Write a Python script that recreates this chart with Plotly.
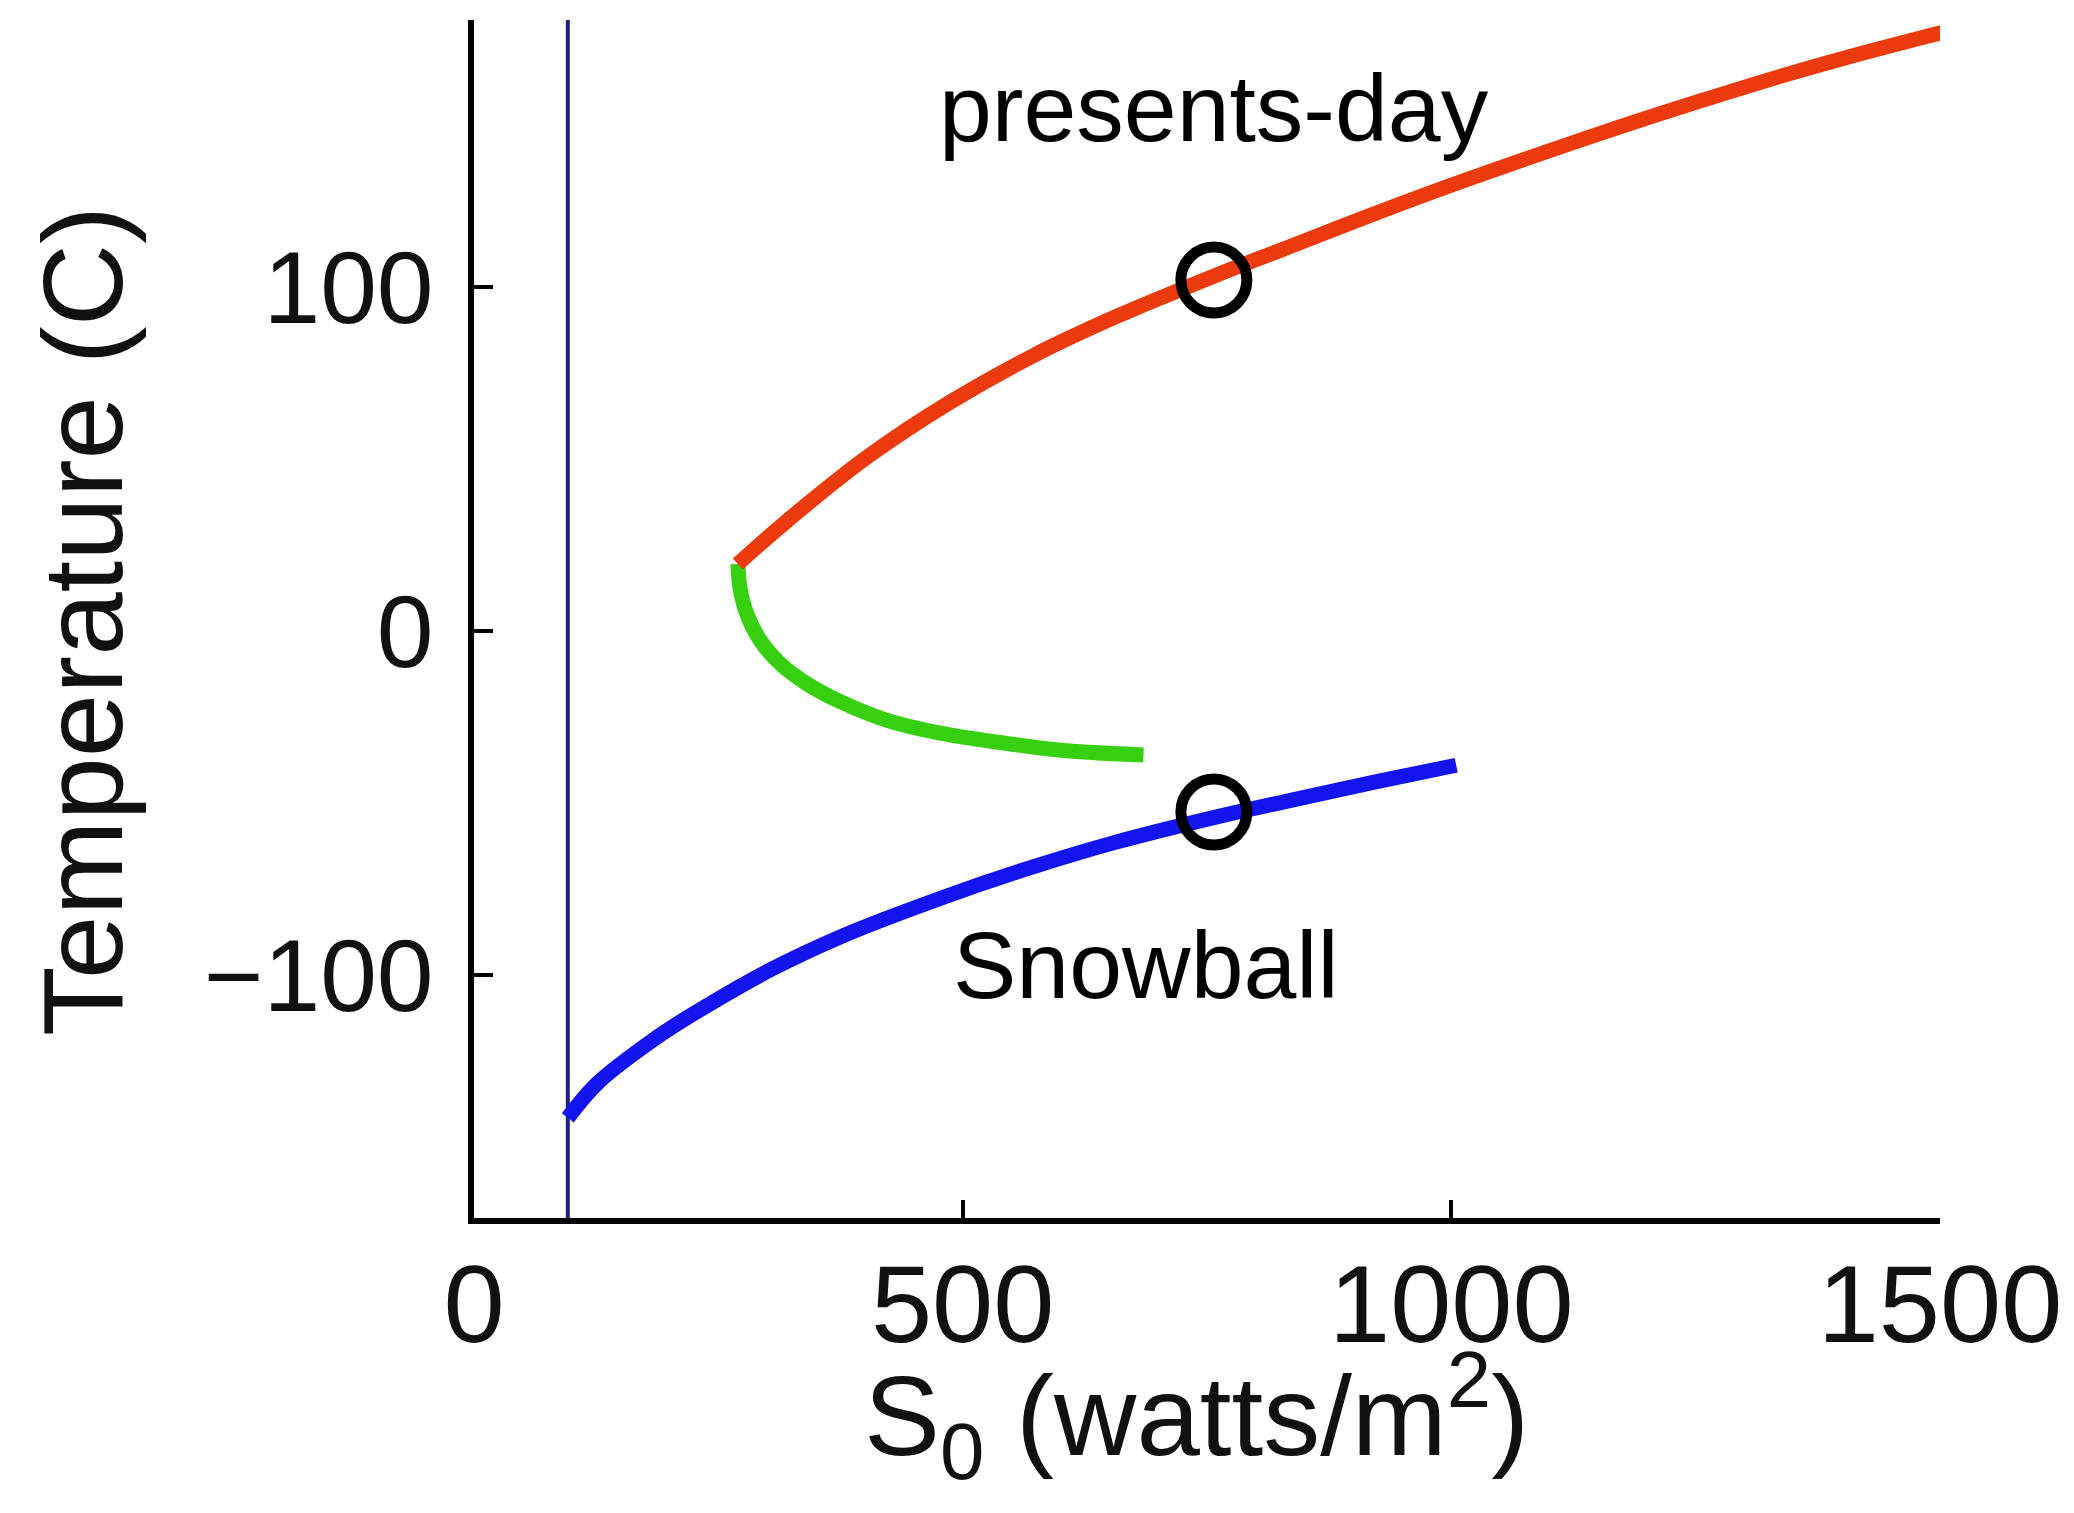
import plotly.graph_objects as go

# Equilibrium branches of the energy-balance model: solar constant vs. temperature
warm_s0 = [270, 316, 402, 487, 572, 658, 760, 828, 914, 999, 1084, 1170, 1254, 1340, 1425, 1502]
warm_t = [19.5, 31.0, 50.5, 66.5, 80.0, 91.5, 103.5, 111.0, 120.5, 129.5, 138.0, 146.3, 154.0, 161.5, 168.3, 174.0]

unstable_s0 = [270, 272, 279, 292.6, 313, 340, 374.5, 422, 477, 538, 606, 685]
unstable_t = [19.5, 12.9, 5.1, -2.6, -9.4, -15.2, -20.5, -25.9, -29.7, -32.4, -34.8, -36.0]

snowball_s0 = [96, 126, 185, 226, 303, 378, 479, 567, 655, 760, 831, 920, 1005]
snowball_t = [-141.5, -131.5, -118.5, -111.0, -98.5, -88.5, -77.5, -69.0, -61.5, -54.0, -49.5, -44.0, -39.0]

# Lowest solar constant with a solution
s0_limit = 96

# Highlighted states
marked_s0 = [757, 757]
marked_t = [102, -52.6]

labels = ["presents-day", "Snowball"]
label_s0 = [757, 688]
label_t = [152, -97]

x_ticks = [0, 500, 1000, 1500]
y_ticks = [-100, 0, 100]
x_range = [0, 1500]
y_range = [-170.6, 177.6]

font_family = "Liberation Sans, Arial, Helvetica, sans-serif"

fig = go.Figure()

fig.add_trace(go.Scatter(
    x=[s0_limit, s0_limit], y=y_range, mode="lines",
    line=dict(color="#1f1f86", width=4), hoverinfo="skip",
))
fig.add_trace(go.Scatter(
    x=snowball_s0, y=snowball_t, mode="lines", line_shape="spline",
    line=dict(color="#1414ee", width=15),
))
fig.add_trace(go.Scatter(
    x=unstable_s0, y=unstable_t, mode="lines", line_shape="spline",
    line=dict(color="#36d010", width=15),
))
fig.add_trace(go.Scatter(
    x=warm_s0, y=warm_t, mode="lines", line_shape="spline",
    line=dict(color="#ea3a0e", width=15),
))
fig.add_trace(go.Scatter(
    x=marked_s0, y=marked_t, mode="markers",
    marker=dict(symbol="circle-open", size=66, color="black",
                line=dict(color="black", width=11)),
))

for text, sx, ty in zip(labels, label_s0, label_t):
    fig.add_annotation(
        x=sx, y=ty, xref="x", yref="y", text=text, showarrow=False,
        font=dict(family=font_family, size=95, color="black"),
        xanchor="center", yanchor="middle",
    )

# Axis titles
fig.add_annotation(
    xref="paper", yref="paper", x=-0.267, y=0.498,
    text="Temperature (C)", textangle=-90, showarrow=False,
    font=dict(family=font_family, size=114, color="#111111"),
    xanchor="center", yanchor="middle",
)
fig.add_annotation(
    xref="paper", yref="paper", x=0.493, y=-0.165,
    text="S<sub>0</sub> (watts/m<sup>2</sup>)", showarrow=False,
    font=dict(family=font_family, size=114, color="#111111"),
    xanchor="center", yanchor="middle",
)

fig.update_xaxes(
    range=x_range, tickvals=x_ticks, ticktext=[str(v) for v in x_ticks],
    showgrid=False, zeroline=False,
    showline=True, linecolor="black", linewidth=6,
    ticks="inside", ticklen=18, tickwidth=4, tickcolor="black",
    tickfont=dict(family=font_family, size=110, color="#111111"),
    ticklabelstandoff=-14,
)
fig.update_yaxes(
    range=y_range, tickvals=y_ticks,
    showgrid=False, zeroline=False,
    showline=True, linecolor="black", linewidth=6,
    ticks="inside", ticklen=19, tickwidth=4, tickcolor="black",
    tickfont=dict(family=font_family, size=102, color="#111111"),
    ticklabelstandoff=14,
)

fig.update_layout(
    width=2074, height=1513,
    margin=dict(l=474, r=134, t=20, b=295),
    paper_bgcolor="white", plot_bgcolor="white",
    showlegend=False,
)

fig.write_html("out.html")
